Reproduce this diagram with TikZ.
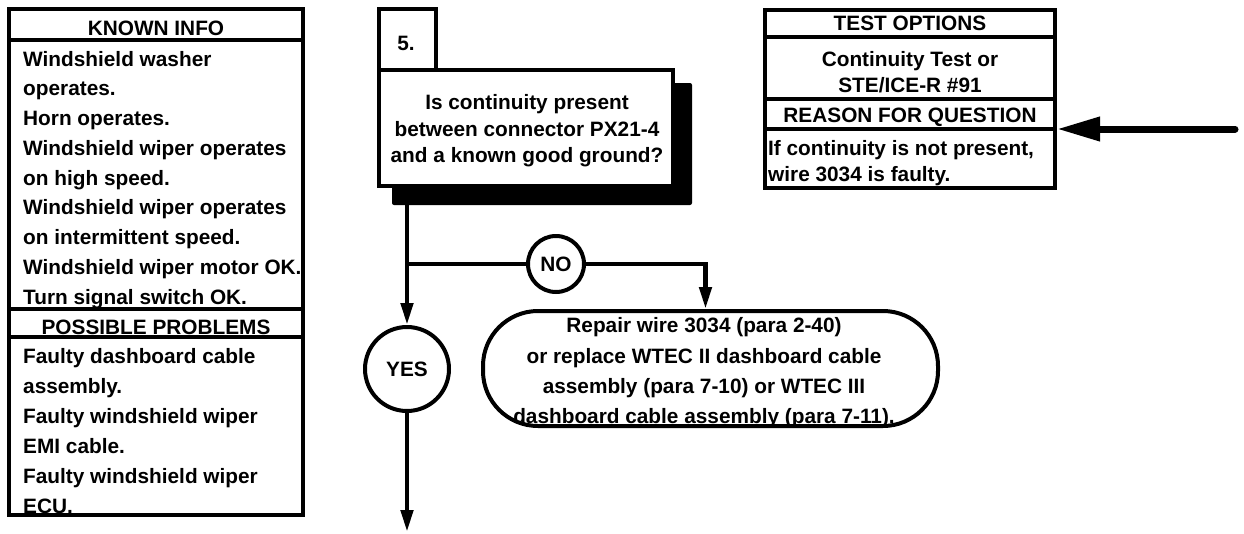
\documentclass[tikz,border=0pt]{standalone}
\usepackage{fontspec}
\setmainfont{Liberation Sans}
\usetikzlibrary{arrows.meta}

\begin{document}
\begin{tikzpicture}[x=1pt,y=-1pt]
    \tikzset{
        txt/.style={inner sep=0pt, font=\fontsize{20.8}{#1}\selectfont\bfseries},
        txt/.default=26.5,
        boxline/.style={draw, line width=4pt, inner sep=0pt},
        sepline/.style={line width=4pt},
        ring/.style={draw, circle, line width=4pt, inner sep=0pt, font=\fontsize{20.8}{25}\selectfont\bfseries},
        wire/.style={line width=4.5pt},
        flow/.style={wire, -{Triangle[length=22pt,width=12pt]}},
        bigarrow/.style={line width=7pt, line cap=round, -{Triangle[length=43pt,width=23pt]}}
    }
    \useasboundingbox (0,0) rectangle (1244,533);

    % known info and possible problems
    \node[boxline, minimum width=294pt, minimum height=506pt] (kbox) at (156,262) {};
    \foreach \y in {40,309,337}
        \draw[sepline] (kbox.west |- 0,\y) -- (kbox.east |- 0,\y);
    \node[txt, anchor=base] (khd) at (156,35) {KNOWN INFO};
    \foreach \t [count=\i] in {Windshield washer, operates., Horn operates., Windshield wiper operates, on high speed., Windshield wiper operates, on intermittent speed., Windshield wiper motor OK., Turn signal switch OK.}
        \node[txt, anchor=base west] (kn\i) at (23,{66+29.75*(\i-1)}) {\t};
    \node[txt, anchor=base] (phd) at (156,334) {POSSIBLE PROBLEMS};
    \foreach \t [count=\i] in {Faulty dashboard cable, assembly., Faulty windshield wiper, EMI cable., Faulty windshield wiper, ECU.}
        \node[txt, anchor=base west] (pp\i) at (23,{363+30*(\i-1)}) {\t};

    % step 5 question
    \node[fill=black, rounded corners=2pt, minimum width=300pt, minimum height=122pt, inner sep=0pt] (sh) at (542,144) {};
    \node[boxline, fill=white, minimum width=294pt, minimum height=116pt] (q) at (526,128) {};
    \node[boxline, minimum width=57pt, minimum height=61pt] (num) at (407.5,39.5) {};
    \node[txt, anchor=base] (numtxt) at (406,50) {5.};
    \node[txt, align=center] (qtxt) at (527,131) {Is continuity present\\between connector PX21-4\\and a known good ground?};

    % test options and reason
    \node[boxline, minimum width=290pt, minimum height=178pt] (tbox) at (910,99) {};
    \foreach \y in {37,99,128.5}
        \draw[sepline] (tbox.west |- 0,\y) -- (tbox.east |- 0,\y);
    \node[txt, anchor=base] (thd) at (910,30) {TEST OPTIONS};
    \node[txt, anchor=base] (cont) at (910,66) {Continuity Test or};
    \node[txt, anchor=base] (ste) at (910,92) {STE/ICE-R \#91};
    \node[txt, anchor=base] (rhd) at (910,122) {REASON FOR QUESTION};
    \foreach \t [count=\i] in {{If continuity is not present,}, wire 3034 is faulty.}
        \node[txt, anchor=base west] (rs\i) at (768,{155+26*(\i-1)}) {\t};

    % answers
    \node[ring, minimum size=84pt] (yes) at (407,369) {YES};
    \node[ring, minimum size=56pt] (no) at (556,264) {NO};
    \node[boxline, rounded corners=55pt, minimum width=455pt, minimum height=115pt] (repair) at (710.5,368.5) {};
    \node[txt=30.3, align=center] (rtxt) at (704,373) {Repair wire 3034 (para 2-40)\\or replace WTEC II dashboard cable\\assembly (para 7-10) or WTEC III\\dashboard cable assembly (para 7-11).};

    \coordinate (down) at (407,532);
    \coordinate (inlet) at (1235,129);
    \draw[flow] (sh.south -| yes.north) -- (yes.north);
    \draw[wire] (no.west -| yes.north) -- (no.west);
    \draw[flow] (no.east) -| ([xshift=-5pt]repair.north);
    \draw[flow] (yes.south) -- (down);
    \draw[bigarrow] (inlet) -- (inlet -| tbox.east);
\end{tikzpicture}
\end{document}
